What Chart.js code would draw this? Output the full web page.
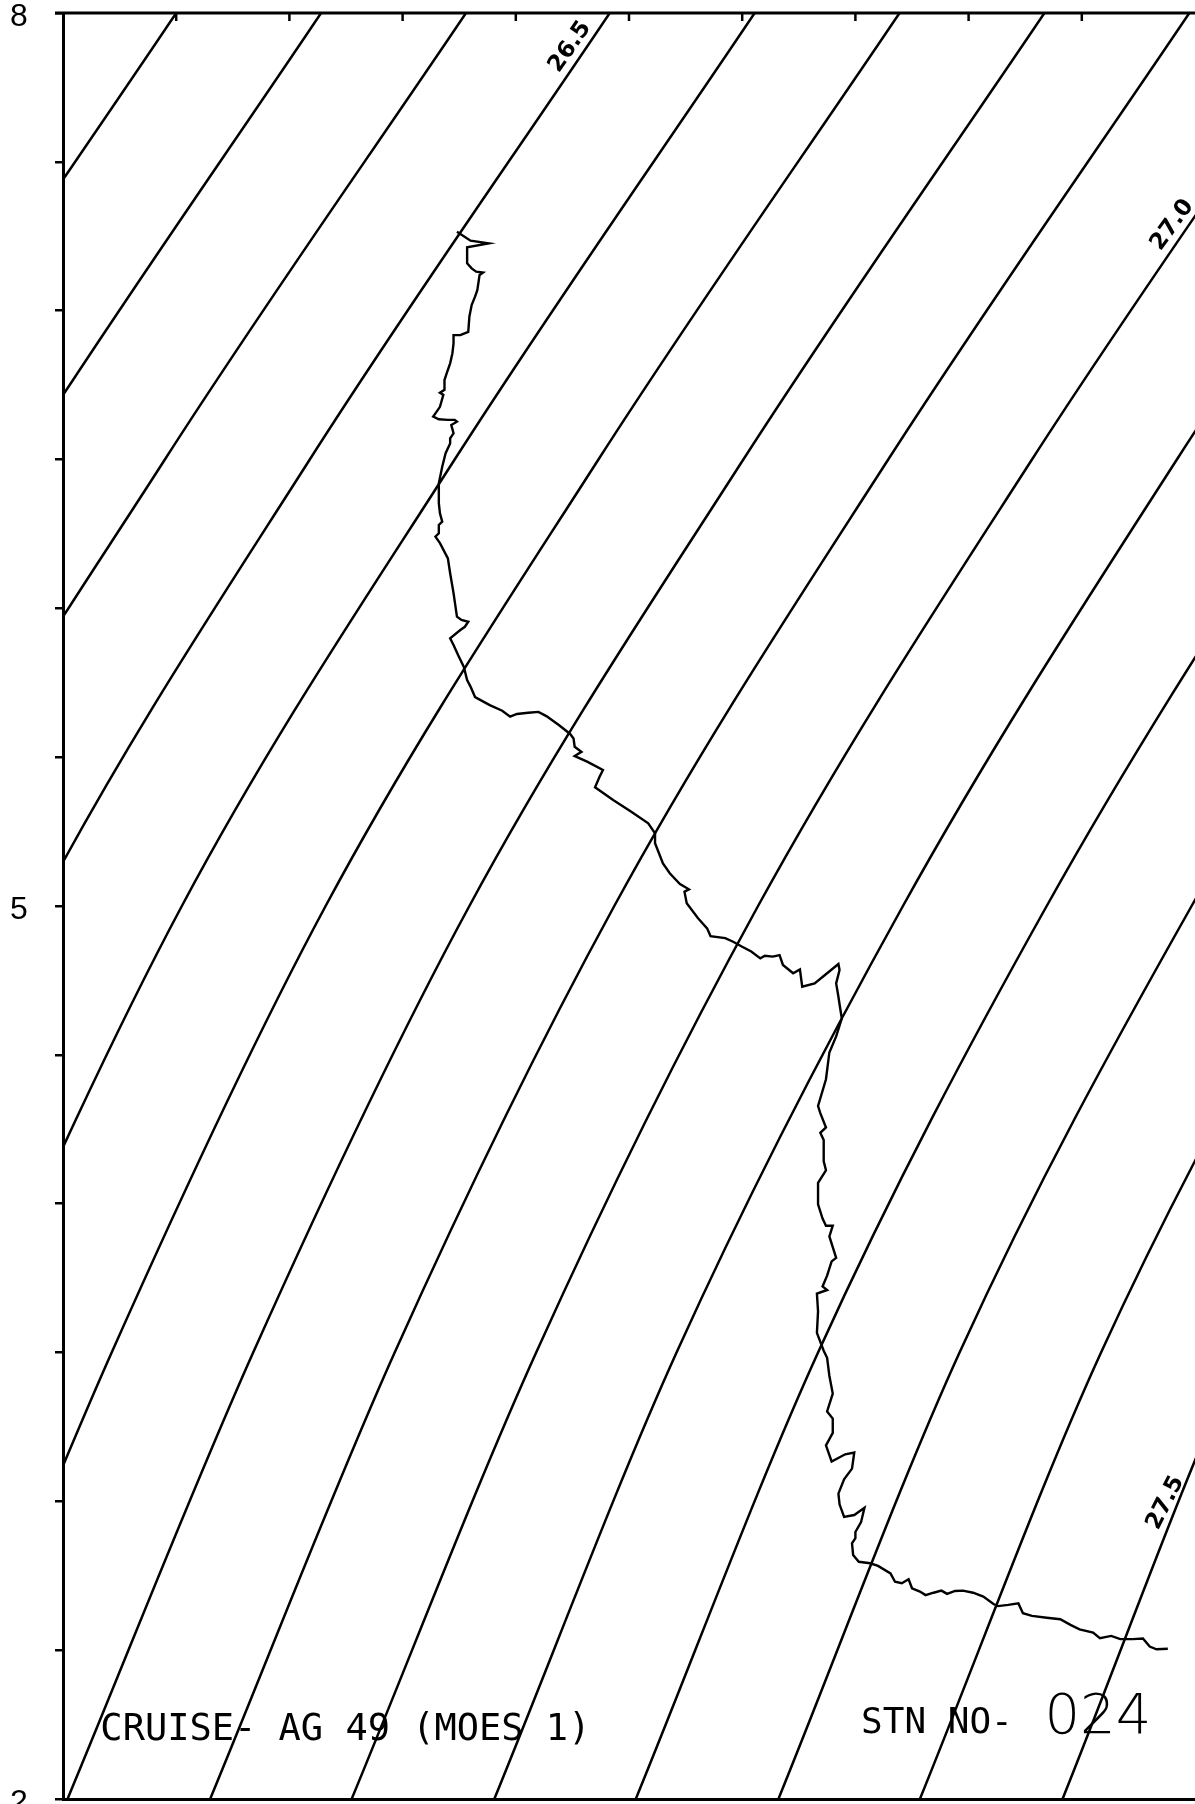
<!DOCTYPE html>
<html>
<head>
<meta charset="utf-8">
<title>CRUISE- AG 49 (MOES 1) STN NO- 024</title>
<script src="https://cdn.jsdelivr.net/npm/chart.js@4.4.1/dist/chart.umd.min.js"></script>
<style>
  html, body { margin: 0; padding: 0; background: #fff; overflow: hidden; }
  canvas { display: block; }
</style>
</head>
<body>
<canvas id="ts" width="1195" height="1804"></canvas>
<script>
// frame: potential temperature (y) against salinity (x)
const tempRange = [2, 8];
const salRange = [33.5, 34.5];
const tempLabels = [2, 5, 8];

// isopycnals (sigma-theta), salinity read where each one crosses these temperatures
const isoTemps = [2, 3.5, 5, 6.5, 8];
const iso262 = [32.751, 32.919, 33.094, 33.335, 33.600];
const iso263 = [32.877, 33.044, 33.222, 33.463, 33.728];
const iso264 = [33.002, 33.169, 33.349, 33.590, 33.856];
const iso265 = [33.128, 33.293, 33.479, 33.718, 33.983];
const iso266 = [33.253, 33.418, 33.605, 33.846, 34.111];
const iso267 = [33.379, 33.543, 33.732, 33.973, 34.239];
const iso268 = [33.504, 33.668, 33.859, 34.101, 34.367];
const iso269 = [33.630, 33.793, 33.987, 34.229, 34.495];
const iso270 = [33.755, 33.918, 34.114, 34.356, 34.623];
const iso271 = [33.881, 34.042, 34.242, 34.484, 34.750];
const iso272 = [34.006, 34.167, 34.369, 34.612, 34.878];
const iso273 = [34.132, 34.292, 34.497, 34.740, 35.006];
const iso274 = [34.257, 34.417, 34.624, 34.867, 35.134];
const iso275 = [34.383, 34.541, 34.752, 34.995, 35.262];
const iso276 = [34.508, 34.666, 34.879, 35.123, 35.389];

// labelled isopycnals and where the label sits (salinity, temperature)
const isoLabels = ['26.5', '27.0', '27.5'];
const isoLabelSal = [33.948, 34.480, 34.474];
const isoLabelTemp = [7.886, 7.288, 2.995];

// station profile, top of the cast first
const profileSal = [
  33.848, 33.860, 33.876, 33.857, 33.857, 33.861, 33.865, 33.871, 33.868, 33.866,
  33.864, 33.861, 33.859, 33.858, 33.851, 33.845, 33.845, 33.844, 33.842, 33.839,
  33.837, 33.837, 33.833, 33.836, 33.833, 33.829, 33.827, 33.832, 33.840, 33.846,
  33.848, 33.843, 33.845, 33.842, 33.842, 33.838, 33.835, 33.832, 33.832, 33.832,
  33.833, 33.835, 33.832, 33.832, 33.829, 33.833, 33.840, 33.842, 33.845, 33.848,
  33.852, 33.858, 33.855, 33.851, 33.842, 33.845, 33.849, 33.854, 33.857, 33.860,
  33.864, 33.877, 33.888, 33.895, 33.901, 33.911, 33.920, 33.927, 33.938, 33.948,
  33.951, 33.952, 33.958, 33.952, 33.963, 33.977, 33.974, 33.970, 33.986, 34.002,
  34.017, 34.023, 34.023, 34.030, 34.036, 34.045, 34.053, 34.049, 34.051, 34.061,
  34.069, 34.072, 34.085, 34.092, 34.100, 34.108, 34.116, 34.120, 34.127, 34.133,
  34.136, 34.145, 34.151, 34.153, 34.164, 34.175, 34.185, 34.186, 34.183, 34.185,
  34.186, 34.188, 34.183, 34.177, 34.174, 34.167, 34.169, 34.174, 34.169, 34.172,
  34.172, 34.174, 34.167, 34.167, 34.171, 34.174, 34.180, 34.177, 34.183, 34.179,
  34.175, 34.171, 34.175, 34.166, 34.167, 34.166, 34.172, 34.175, 34.177, 34.180,
  34.175, 34.180, 34.180, 34.174, 34.179, 34.191, 34.199, 34.197, 34.190, 34.185,
  34.186, 34.190, 34.199, 34.208, 34.205, 34.200, 34.200, 34.197, 34.198, 34.203,
  34.213, 34.220, 34.231, 34.235, 34.241, 34.247, 34.250, 34.257, 34.262, 34.269,
  34.276, 34.281, 34.288, 34.295, 34.304, 34.313, 34.322, 34.326, 34.335, 34.344,
  34.348, 34.356, 34.369, 34.381, 34.390, 34.398, 34.410, 34.416, 34.426, 34.434,
  34.445, 34.454, 34.460, 34.466, 34.476
];
const profileTemp = [
  7.265, 7.235, 7.226, 7.213, 7.159, 7.142, 7.131, 7.128, 7.120, 7.069,
  7.047, 7.019, 6.980, 6.929, 6.918, 6.918, 6.890, 6.857, 6.823, 6.790,
  6.767, 6.734, 6.724, 6.717, 6.677, 6.655, 6.644, 6.635, 6.633, 6.633,
  6.627, 6.616, 6.588, 6.571, 6.554, 6.521, 6.476, 6.420, 6.398, 6.353,
  6.319, 6.291, 6.280, 6.252, 6.241, 6.219, 6.168, 6.118, 6.051, 5.972,
  5.961, 5.955, 5.938, 5.927, 5.899, 5.877, 5.843, 5.804, 5.759, 5.737,
  5.702, 5.675, 5.656, 5.636, 5.645, 5.649, 5.652, 5.638, 5.608, 5.578,
  5.563, 5.535, 5.518, 5.504, 5.485, 5.457, 5.434, 5.399, 5.356, 5.317,
  5.278, 5.244, 5.211, 5.143, 5.110, 5.074, 5.056, 5.048, 5.009, 4.959,
  4.925, 4.899, 4.892, 4.880, 4.863, 4.847, 4.824, 4.833, 4.830, 4.835,
  4.802, 4.774, 4.787, 4.729, 4.740, 4.774, 4.805, 4.785, 4.740, 4.695,
  4.670, 4.622, 4.562, 4.508, 4.418, 4.328, 4.304, 4.256, 4.238, 4.214,
  4.142, 4.112, 4.070, 3.998, 3.950, 3.926, 3.926, 3.890, 3.818, 3.806,
  3.758, 3.722, 3.710, 3.698, 3.638, 3.566, 3.506, 3.482, 3.422, 3.362,
  3.302, 3.278, 3.230, 3.188, 3.134, 3.158, 3.164, 3.110, 3.074, 3.026,
  2.990, 2.948, 2.954, 2.978, 2.930, 2.897, 2.876, 2.859, 2.820, 2.797,
  2.792, 2.783, 2.758, 2.730, 2.725, 2.738, 2.708, 2.697, 2.685, 2.693,
  2.700, 2.689, 2.699, 2.700, 2.693, 2.680, 2.655, 2.648, 2.652, 2.657,
  2.624, 2.615, 2.609, 2.604, 2.585, 2.570, 2.559, 2.540, 2.548, 2.537,
  2.537, 2.539, 2.512, 2.503, 2.505
];

// plot annotations: text, left edge salinity, baseline temperature
const noteText = ['CRUISE- AG 49 (MOES 1)', 'STN NO-', '024'];
const noteSal = [33.533, 34.205, 34.367];
const noteTemp = [2.198, 2.222, 2.222];

const isopycnals = [iso262, iso263, iso264, iso265, iso266, iso267, iso268, iso269,
  iso270, iso271, iso272, iso273, iso274, iso275, iso276];

const toPoints = (xs, ys) => xs.map((v, i) => ({ x: v, y: ys[i] }));

const datasets = [{
  label: 'STN 024',
  data: toPoints(profileSal, profileTemp),
  showLine: true,
  borderColor: '#000',
  borderWidth: 2.4,
  pointRadius: 0,
  tension: 0
}];
isopycnals.forEach(s => {
  datasets.push({
    label: 'sigma',
    data: toPoints(s, isoTemps),
    showLine: true,
    borderColor: '#000',
    borderWidth: 2.5,
    pointRadius: 0,
    cubicInterpolationMode: 'monotone'
  });
});

// top frame line with inward ticks, labels on the isopycnals, cruise text
const framePlugin = {
  id: 'frame',
  afterDatasetsDraw(chart) {
    const { ctx, chartArea, scales: { x, y } } = chart;
    ctx.save();
    ctx.strokeStyle = '#000';
    ctx.lineWidth = 3;
    ctx.beginPath();
    ctx.moveTo(chartArea.left - 8, chartArea.top);
    ctx.lineTo(chartArea.right, chartArea.top);
    ctx.stroke();
    ctx.lineWidth = 2.5;
    x.ticks.forEach(t => {
      const px = x.getPixelForValue(t.value);
      if (px <= chartArea.left + 2 || px >= chartArea.right - 2) return;
      ctx.beginPath();
      ctx.moveTo(px, chartArea.top);
      ctx.lineTo(px, chartArea.top + 8);
      ctx.stroke();
    });

    ctx.fillStyle = '#000';
    const angles = [-55, -54, -63];
    isoLabels.forEach((txt, i) => {
      ctx.save();
      ctx.translate(x.getPixelForValue(isoLabelSal[i]), y.getPixelForValue(isoLabelTemp[i]));
      ctx.rotate(angles[i] * Math.PI / 180);
      ctx.font = 'bold 23px "DejaVu Sans"';
      ctx.textAlign = 'center';
      ctx.textBaseline = 'middle';
      ctx.fillText(txt, 0, 0);
      ctx.restore();
    });

    const fonts = ['37px "DejaVu Sans Mono"', '36px "DejaVu Sans Mono"', '200 56px "DejaVu Sans"'];
    ctx.textAlign = 'left';
    ctx.textBaseline = 'alphabetic';
    noteText.forEach((txt, i) => {
      ctx.font = fonts[i];
      ctx.fillText(txt, x.getPixelForValue(noteSal[i]), y.getPixelForValue(noteTemp[i]));
    });
    ctx.restore();
  }
};

new Chart(document.getElementById('ts'), {
  type: 'scatter',
  data: { datasets },
  options: {
    responsive: false,
    animation: false,
    devicePixelRatio: 1,
    layout: { padding: { left: 10, top: 13, right: 0, bottom: 0 } },
    plugins: { legend: { display: false }, tooltip: { enabled: false } },
    scales: {
      x: {
        type: 'linear',
        position: 'bottom',
        min: salRange[0],
        max: salRange[1],
        ticks: { display: false, stepSize: 0.1 },
        grid: { display: false },
        border: { display: true, color: '#000', width: 3 },
        afterFit: s => { s.height = 5; s.paddingLeft = 0; s.paddingRight = 0; }
      },
      y: {
        type: 'linear',
        min: tempRange[0],
        max: tempRange[1],
        ticks: {
          stepSize: 0.5,
          autoSkip: false,
          padding: 0,
          crossAlign: 'far',
          labelOffset: 4,
          color: '#000',
          font: { family: '"Liberation Sans", Arial, sans-serif', size: 32 },
          callback: v => tempLabels.includes(v) ? String(v) : ''
        },
        grid: { drawOnChartArea: false, drawTicks: true, tickLength: 8, color: '#000', lineWidth: 2.5 },
        border: { display: true, color: '#000', width: 3 },
        afterFit: s => { s.width = 53; s.paddingTop = 0; s.paddingBottom = 0; }
      }
    }
  },
  plugins: [framePlugin]
});
</script>
</body>
</html>
